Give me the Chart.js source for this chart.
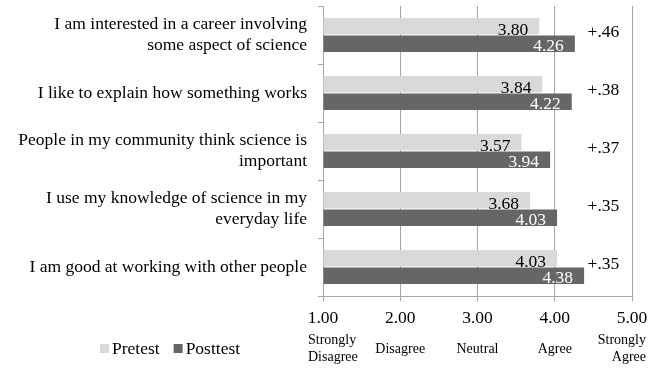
<!DOCTYPE html>
<html>
<head>
<meta charset="utf-8">
<script src="https://cdn.jsdelivr.net/npm/chart.js@4/dist/chart.umd.min.js"></script>
<style>
  html, body { margin: 0; padding: 0; background: #fff; }
  #wrap { width: 656px; height: 374px; }
</style>
</head>
<body>
<div id="wrap"><canvas id="surveyChart" width="656" height="374"></canvas></div>
<script>
// statements, top to bottom
const statements = [
  ['I am interested in a career involving', 'some aspect of science'],
  'I like to explain how something works',
  ['People in my community think science is', 'important'],
  ['I use my knowledge of science in my', 'everyday life'],
  'I am good at working with other people'
];
const pretest = [3.80, 3.84, 3.57, 3.68, 4.03];
const posttest = [4.26, 4.22, 3.94, 4.03, 4.38];
const gains = ['+.46', '+.38', '+.37', '+.35', '+.35'];
const scaleTicks = [1, 2, 3, 4, 5];
const scaleWords = [['Strongly', 'Disagree'], ['Disagree'], ['Neutral'], ['Agree'], ['Strongly', 'Agree']];

const SERIF = '"Liberation Serif", "Times New Roman", serif';
const TEXT_SIZE = 17.5;
const gridGray = '#a6a6a6';

// values written inside each bar, the gain beside each pair
const barText = {
  id: 'barText',
  afterDatasetsDraw(chart) {
    const ctx = chart.ctx;
    ctx.save();
    ctx.font = TEXT_SIZE + 'px ' + SERIF;
    ctx.textAlign = 'right';
    ctx.textBaseline = 'alphabetic';
    chart.data.datasets.forEach((ds, di) => {
      chart.getDatasetMeta(di).data.forEach((bar, i) => {
        ctx.fillStyle = di === 0 ? '#000' : '#fff';
        const bottom = bar.y + bar.height / 2;
        ctx.fillText(ds.data[i].toFixed(2), bar.x - 11, bottom + (di === 0 ? 1 : -1));
      });
    });
    const xs = chart.scales.x, ys = chart.scales.y;
    ctx.fillStyle = '#000';
    ctx.textAlign = 'center';
    ctx.textBaseline = 'middle';
    gains.forEach((g, i) => {
      ctx.fillText(g, xs.getPixelForValue(4.63), ys.getPixelForValue(i) - 3);
    });
    ctx.restore();
  }
};

// agreement words under the value ticks, plus the legend
const footer = {
  id: 'footer',
  afterDraw(chart) {
    const ctx = chart.ctx;
    const xs = chart.scales.x;
    ctx.save();
    ctx.fillStyle = '#000';
    ctx.font = '14px ' + SERIF;
    ctx.textBaseline = 'middle';
    scaleWords.forEach((lines, i) => {
      let x = xs.getPixelForValue(scaleTicks[i]);
      if (i === 0) { ctx.textAlign = 'left'; x -= 15; }
      else if (i === scaleWords.length - 1) { ctx.textAlign = 'right'; x += 14; }
      else ctx.textAlign = 'center';
      const top = 349 - (lines.length - 1) * 17 / 2;
      lines.forEach((t, j) => ctx.fillText(t, x, top + j * 17));
    });

    ctx.font = TEXT_SIZE + 'px ' + SERIF;
    ctx.textAlign = 'left';
    let lx = 100;
    chart.data.datasets.forEach(ds => {
      ctx.fillStyle = ds.backgroundColor;
      ctx.fillRect(lx, 344, 9, 9);
      ctx.fillStyle = '#000';
      ctx.fillText(ds.label, lx + 12, 349);
      lx += 12 + ctx.measureText(ds.label).width + 14;
    });
    ctx.restore();
  }
};

const ctx = document.getElementById('surveyChart').getContext('2d');
new Chart(ctx, {
  type: 'bar',
  data: {
    labels: statements,
    datasets: [
      { label: 'Pretest', data: pretest, backgroundColor: '#d9d9d9', base: 1 },
      { label: 'Posttest', data: posttest, backgroundColor: '#666666', base: 1 }
    ]
  },
  options: {
    indexAxis: 'y',
    responsive: false,
    animation: false,
    categoryPercentage: 0.6,
    barPercentage: 0.94,
    layout: { padding: { top: 6, right: 24, left: 0, bottom: 0 } },
    plugins: {
      legend: { display: false },
      tooltip: { enabled: false }
    },
    scales: {
      x: {
        min: 1,
        max: 5,
        afterFit: function(scale) {
          scale.height = 78;
          scale.paddingLeft = 0;
          scale.paddingRight = 0;
        },
        ticks: {
          stepSize: 1,
          padding: 7,
          color: '#000',
          font: { family: SERIF, size: TEXT_SIZE },
          callback: function(value) { return value.toFixed(2); }
        },
        grid: { color: gridGray, tickLength: 5 },
        border: { color: gridGray }
      },
      y: {
        afterFit: function(scale) {
          scale.width = 323;
          scale.paddingTop = 0;
          scale.paddingBottom = 0;
        },
        ticks: {
          padding: 11,
          color: '#000',
          font: { family: SERIF, size: TEXT_SIZE, lineHeight: 1.2 }
        },
        grid: { drawOnChartArea: false, color: gridGray, tickLength: 5 },
        border: { color: gridGray }
      }
    }
  },
  plugins: [barText, footer]
});
</script>
</body>
</html>
